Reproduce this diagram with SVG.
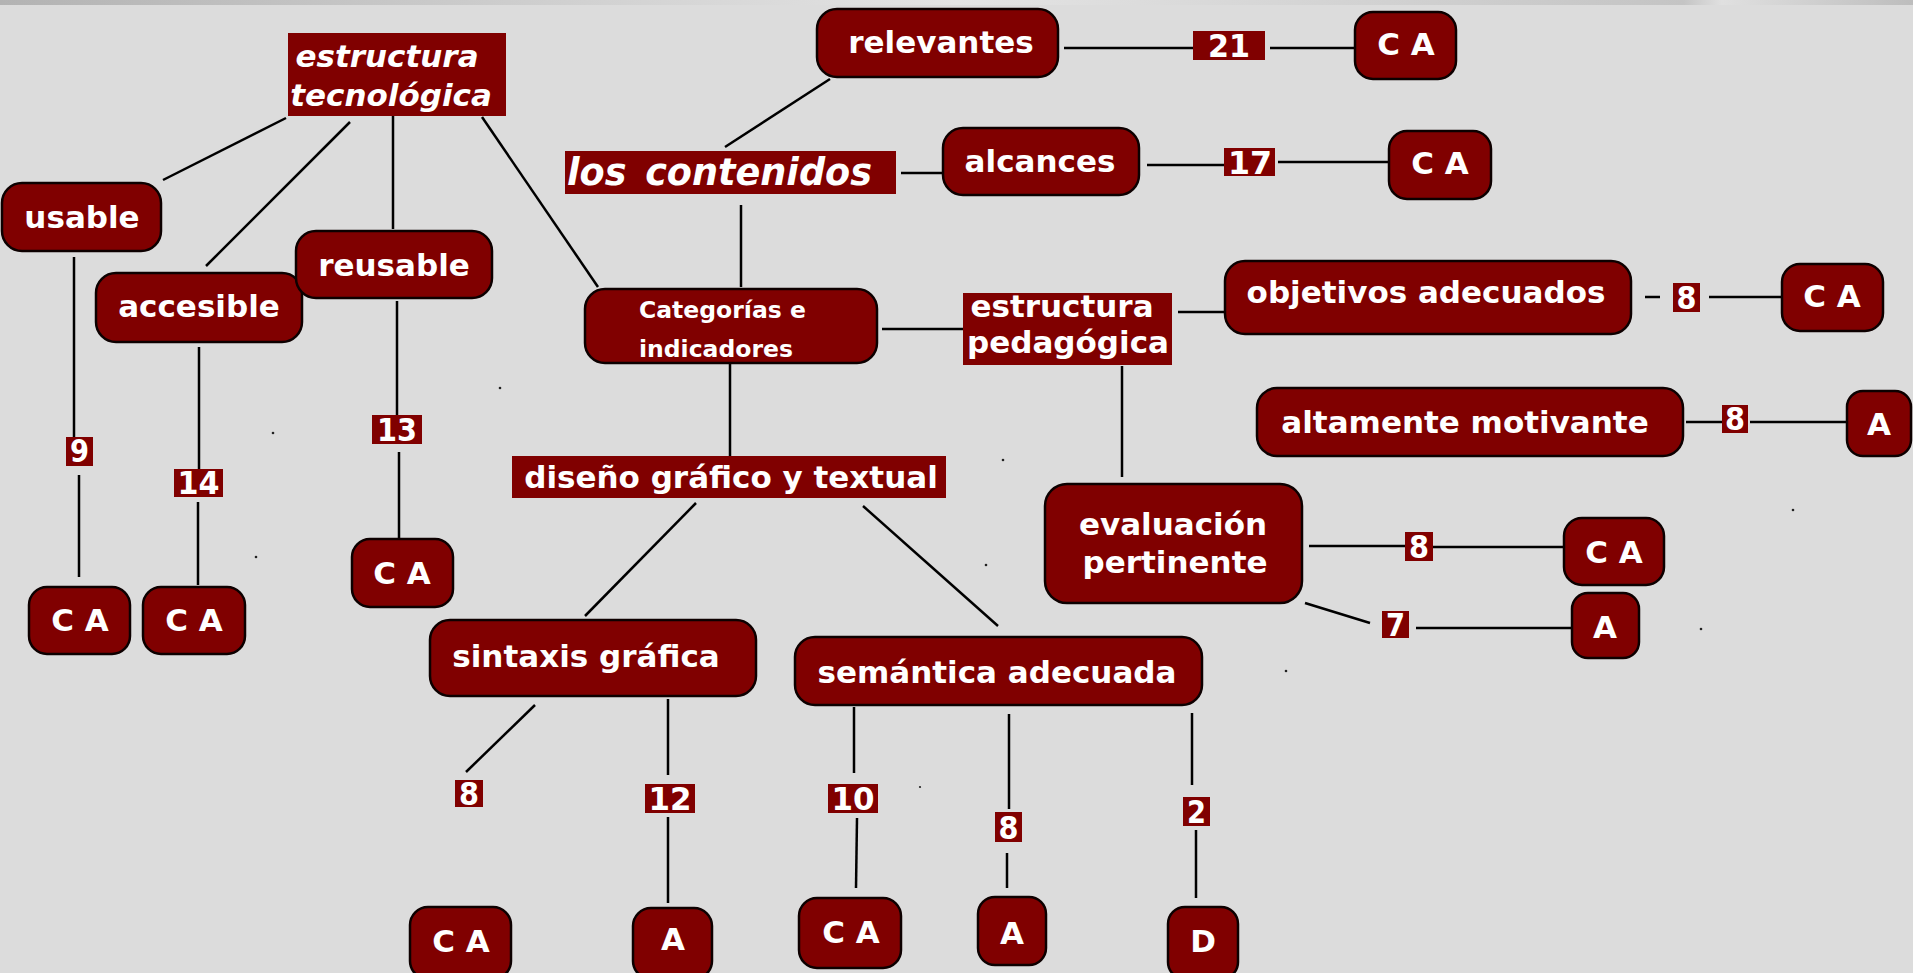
<svg xmlns="http://www.w3.org/2000/svg" width="1913" height="973" viewBox="0 0 1913 973">
<defs>
<linearGradient id="topband" x1="0" y1="0" x2="1" y2="0">
<stop offset="0" stop-color="#b3b3b3"/>
<stop offset="0.5" stop-color="#e4e4e4"/>
<stop offset="0.88" stop-color="#c4c4c4"/>
<stop offset="0.9" stop-color="#e0e0e0"/>
<stop offset="1" stop-color="#bdbdbd"/>
</linearGradient>
</defs>
<style>
.box{fill:#800000;stroke:#0d0000;stroke-width:2.5}
.plain{fill:#800000;stroke:none}
.tag{fill:#800000;stroke:none}
.t{font-family:"DejaVu Sans","Liberation Sans",sans-serif;font-weight:bold;fill:#ffffff;font-size:31px;text-anchor:middle}
.it{font-style:italic}
.sm{font-size:23.5px;text-anchor:start}
.n{font-size:32px}
.conn line{stroke:#000;stroke-width:2.5;stroke-linecap:butt}
.dot{fill:#222}
</style>
<rect x="0" y="0" width="1913" height="973" fill="#dcdcdc"/>
<rect x="0" y="0" width="1913" height="5" fill="url(#topband)"/>
<g id="dots">
<circle class="dot" cx="500" cy="388" r="1.3"/>
<circle class="dot" cx="273" cy="433" r="1.3"/>
<circle class="dot" cx="256" cy="557" r="1.3"/>
<circle class="dot" cx="1003" cy="460" r="1.3"/>
<circle class="dot" cx="986" cy="565" r="1.3"/>
<circle class="dot" cx="1793" cy="510" r="1.3"/>
<circle class="dot" cx="1701" cy="629" r="1.3"/>
<circle class="dot" cx="1286" cy="671" r="1.3"/>
<circle class="dot" cx="920" cy="787" r="1.1"/>
</g>
<g id="connectors" class="conn">
<line x1="286" y1="118" x2="163" y2="180"/>
<line x1="350" y1="122" x2="206" y2="266"/>
<line x1="393" y1="116" x2="393" y2="229"/>
<line x1="482" y1="117" x2="598" y2="287"/>
<line x1="74" y1="257" x2="74" y2="437"/>
<line x1="79" y1="475" x2="79" y2="577"/>
<line x1="199" y1="347" x2="199" y2="469"/>
<line x1="198" y1="502" x2="198" y2="585"/>
<line x1="397" y1="301" x2="397" y2="415"/>
<line x1="399" y1="452" x2="399" y2="538"/>
<line x1="725" y1="147" x2="830" y2="79"/>
<line x1="901" y1="173" x2="943" y2="173"/>
<line x1="741" y1="205" x2="741" y2="287"/>
<line x1="1064" y1="48" x2="1193" y2="48"/>
<line x1="1270" y1="48" x2="1355" y2="48"/>
<line x1="1147" y1="165" x2="1224" y2="165"/>
<line x1="1278" y1="162" x2="1389" y2="162"/>
<line x1="882" y1="329" x2="963" y2="329"/>
<line x1="730" y1="364" x2="730" y2="456"/>
<line x1="1178" y1="312" x2="1225" y2="312"/>
<line x1="1122" y1="366" x2="1122" y2="477"/>
<line x1="1645" y1="297" x2="1660" y2="297"/>
<line x1="1709" y1="297" x2="1782" y2="297"/>
<line x1="1686" y1="422" x2="1722" y2="422"/>
<line x1="1750" y1="422" x2="1847" y2="422"/>
<line x1="1309" y1="546" x2="1405" y2="546"/>
<line x1="1433" y1="547" x2="1564" y2="547"/>
<line x1="1305" y1="603" x2="1370" y2="623"/>
<line x1="1416" y1="628" x2="1572" y2="628"/>
<line x1="696" y1="503" x2="585" y2="616"/>
<line x1="863" y1="506" x2="998" y2="626"/>
<line x1="535" y1="705" x2="466" y2="772"/>
<line x1="668" y1="699" x2="668" y2="775"/>
<line x1="668" y1="817" x2="668" y2="903"/>
<line x1="854" y1="707" x2="854" y2="773"/>
<line x1="857" y1="818" x2="856" y2="888"/>
<line x1="1009" y1="714" x2="1009" y2="809"/>
<line x1="1007" y1="853" x2="1007" y2="888"/>
<line x1="1192" y1="713" x2="1192" y2="785"/>
<line x1="1196" y1="830" x2="1196" y2="898"/>
</g>
<g id="n-estructura-tecnologica">
<rect class="plain" x="288" y="33" width="218" height="83"/>
<text class="t it" x="387" y="67">estructura</text>
<text class="t it" x="391" y="106">tecnológica</text>
</g>
<g id="n-usable">
<rect class="box" x="2" y="183" width="159" height="68" rx="20"/>
<text class="t" x="82" y="228">usable</text>
</g>
<g id="n-accesible">
<rect class="box" x="96" y="273" width="206" height="69" rx="20"/>
<text class="t" x="199" y="317">accesible</text>
</g>
<g id="n-reusable">
<rect class="box" x="296" y="231" width="196" height="67" rx="20"/>
<text class="t" x="394" y="276">reusable</text>
</g>
<g id="n-los-contenidos">
<rect class="plain" x="565" y="151" width="331" height="43"/>
<text class="t it" x="567" y="185" style="font-size:37px;text-anchor:start;word-spacing:6px" textLength="305" lengthAdjust="spacingAndGlyphs">los contenidos</text>
</g>
<g id="n-relevantes">
<rect class="box" x="817" y="9" width="241" height="68" rx="20"/>
<text class="t" x="941" y="53">relevantes</text>
</g>
<g id="n-ca-relevantes">
<rect class="box" x="1355" y="12" width="101" height="67" rx="18"/>
<text class="t" x="1406" y="55">C A</text>
</g>
<g id="n-alcances">
<rect class="box" x="943" y="128" width="196" height="67" rx="20"/>
<text class="t" x="1040" y="172">alcances</text>
</g>
<g id="n-ca-alcances">
<rect class="box" x="1389" y="131" width="102" height="68" rx="18"/>
<text class="t" x="1440" y="174">C A</text>
</g>
<g id="n-categorias">
<rect class="box" x="585" y="289" width="292" height="74" rx="20"/>
<text class="t sm" x="639" y="318">Categorías e</text>
<text class="t sm" x="639" y="357">indicadores</text>
</g>
<g id="n-estructura-pedagogica">
<rect class="plain" x="963" y="293" width="209" height="72"/>
<text class="t" x="1062" y="317">estructura</text>
<text class="t" x="1068" y="353">pedagógica</text>
</g>
<g id="n-objetivos">
<rect class="box" x="1225" y="261" width="406" height="73" rx="20"/>
<text class="t" x="1426" y="303">objetivos adecuados</text>
</g>
<g id="n-ca-objetivos">
<rect class="box" x="1782" y="264" width="101" height="67" rx="18"/>
<text class="t" x="1832" y="307">C A</text>
</g>
<g id="n-altamente">
<rect class="box" x="1257" y="388" width="426" height="68" rx="20"/>
<text class="t" x="1465" y="433">altamente motivante</text>
</g>
<g id="n-a-altamente">
<rect class="box" x="1847" y="391" width="64" height="65" rx="16"/>
<text class="t" x="1879" y="435">A</text>
</g>
<g id="n-evaluacion">
<rect class="box" x="1045" y="484" width="257" height="119" rx="22"/>
<text class="t" x="1173" y="535">evaluación</text>
<text class="t" x="1175" y="573">pertinente</text>
</g>
<g id="n-ca-evaluacion">
<rect class="box" x="1564" y="518" width="100" height="67" rx="18"/>
<text class="t" x="1614" y="563">C A</text>
</g>
<g id="n-a-evaluacion">
<rect class="box" x="1572" y="593" width="67" height="65" rx="16"/>
<text class="t" x="1605" y="638">A</text>
</g>
<g id="n-diseno">
<rect class="plain" x="512" y="456" width="434" height="42"/>
<text class="t" x="731" y="488">diseño gráfico y textual</text>
</g>
<g id="n-sintaxis">
<rect class="box" x="430" y="620" width="326" height="76" rx="20"/>
<text class="t" x="586" y="667">sintaxis gráfica</text>
</g>
<g id="n-semantica">
<rect class="box" x="795" y="637" width="407" height="68" rx="20"/>
<text class="t" x="997" y="683">semántica adecuada</text>
</g>
<g id="n-ca-usable">
<rect class="box" x="29" y="587" width="101" height="67" rx="18"/>
<text class="t" x="80" y="631">C A</text>
</g>
<g id="n-ca-accesible">
<rect class="box" x="143" y="587" width="102" height="67" rx="18"/>
<text class="t" x="194" y="631">C A</text>
</g>
<g id="n-ca-reusable">
<rect class="box" x="352" y="539" width="101" height="68" rx="18"/>
<text class="t" x="402" y="584">C A</text>
</g>
<g id="n-ca-sintaxis">
<rect class="box" x="410" y="907" width="101" height="72" rx="18"/>
<text class="t" x="461" y="952">C A</text>
</g>
<g id="n-a-sintaxis">
<rect class="box" x="633" y="908" width="79" height="71" rx="18"/>
<text class="t" x="673" y="950">A</text>
</g>
<g id="n-ca-semantica">
<rect class="box" x="799" y="898" width="102" height="70" rx="18"/>
<text class="t" x="851" y="943">C A</text>
</g>
<g id="n-a-semantica">
<rect class="box" x="978" y="897" width="68" height="68" rx="17"/>
<text class="t" x="1012" y="944">A</text>
</g>
<g id="n-d-semantica">
<rect class="box" x="1168" y="907" width="70" height="72" rx="17"/>
<text class="t" x="1203" y="952">D</text>
</g>
<g id="tag-9"><rect class="tag" x="66" y="437" width="27" height="29"/><text class="t n" x="79.5" y="462" textLength="19" lengthAdjust="spacingAndGlyphs">9</text></g>
<g id="tag-14"><rect class="tag" x="174" y="469" width="49" height="28"/><text class="t n" x="198.5" y="494" textLength="42" lengthAdjust="spacingAndGlyphs">14</text></g>
<g id="tag-13"><rect class="tag" x="372" y="415" width="50" height="29"/><text class="t n" x="397" y="441" textLength="40" lengthAdjust="spacingAndGlyphs">13</text></g>
<g id="tag-21"><rect class="tag" x="1193" y="31" width="72" height="29"/><text class="t n" x="1229" y="57" textLength="42" lengthAdjust="spacingAndGlyphs">21</text></g>
<g id="tag-17"><rect class="tag" x="1224" y="148" width="51" height="28"/><text class="t n" x="1250" y="174" textLength="44" lengthAdjust="spacingAndGlyphs">17</text></g>
<g id="tag-8a"><rect class="tag" x="1673" y="283" width="27" height="29"/><text class="t n" x="1686.5" y="309" textLength="20" lengthAdjust="spacingAndGlyphs">8</text></g>
<g id="tag-8b"><rect class="tag" x="1722" y="405" width="26" height="28"/><text class="t n" x="1735" y="430" textLength="20" lengthAdjust="spacingAndGlyphs">8</text></g>
<g id="tag-8c"><rect class="tag" x="1405" y="532" width="28" height="29"/><text class="t n" x="1419" y="558" textLength="20" lengthAdjust="spacingAndGlyphs">8</text></g>
<g id="tag-7"><rect class="tag" x="1382" y="611" width="27" height="27"/><text class="t n" x="1395.5" y="636" textLength="19" lengthAdjust="spacingAndGlyphs">7</text></g>
<g id="tag-8d"><rect class="tag" x="455" y="780" width="28" height="27"/><text class="t n" x="469" y="805" textLength="20" lengthAdjust="spacingAndGlyphs">8</text></g>
<g id="tag-12"><rect class="tag" x="645" y="784" width="50" height="29"/><text class="t n" x="670" y="810" textLength="43" lengthAdjust="spacingAndGlyphs">12</text></g>
<g id="tag-10"><rect class="tag" x="828" y="784" width="50" height="29"/><text class="t n" x="853" y="810" textLength="43" lengthAdjust="spacingAndGlyphs">10</text></g>
<g id="tag-8e"><rect class="tag" x="995" y="812" width="27" height="30"/><text class="t n" x="1008.5" y="839" textLength="20" lengthAdjust="spacingAndGlyphs">8</text></g>
<g id="tag-2"><rect class="tag" x="1183" y="797" width="27" height="29"/><text class="t n" x="1196.5" y="823" textLength="19" lengthAdjust="spacingAndGlyphs">2</text></g>
</svg>
